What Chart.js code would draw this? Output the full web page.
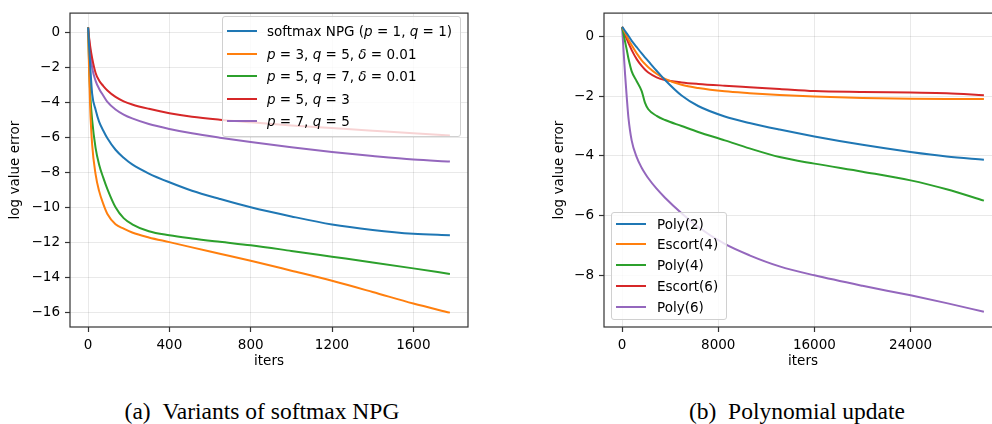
<!DOCTYPE html>
<html>
<head>
<meta charset="utf-8">
<script src="https://cdn.jsdelivr.net/npm/chart.js@4.4.1/dist/chart.umd.min.js"></script>
<style>
  html, body { margin:0; padding:0; background:#fff; }
  body { width:992px; height:424px; overflow:hidden; position:relative; }
  .wrap { position:absolute; top:0; }
  .legend { position:absolute; box-sizing:border-box; background:rgba(255,255,255,0.8);
            border:1px solid #d0d0d0; border-radius:3px; font-family:'DejaVu Sans', sans-serif;
            font-size:13.5px; color:#000; }
  .legend .row { position:absolute; left:0; right:0; height:16px; line-height:16px; white-space:nowrap; }
  .legend .handle { position:absolute; top:7px; width:30px; height:2px; }
  .legend .txt { position:absolute; top:0; }
  .legend i { font-style:oblique; }
  .cap { position:absolute; top:400px; font-family:'Liberation Serif', 'Times New Roman', serif;
         font-size:23.5px; line-height:23.5px; text-align:center; white-space:nowrap; color:#000; }
</style>
</head>
<body>
<div class="wrap" style="left:0;width:480px;height:380px;"><canvas id="cA" width="480" height="380" style="width:480px;height:380px;"></canvas></div>
<div class="wrap" style="left:544px;width:470px;height:380px;"><canvas id="cB" width="470" height="380" style="width:470px;height:380px;"></canvas></div>
<div id="legA" class="legend" style="left:222px;top:16px;width:239px;height:121px;"></div>
<div id="legB" class="legend" style="left:611px;top:212px;width:116px;height:108px;"></div>
<div class="cap" style="left:112px;width:300px;">(a)&ensp;Variants of softmax NPG</div>
<div class="cap" style="left:647px;width:300px;">(b)&ensp;Polynomial update</div>
<script>
// ---------------- data: (a) Variants of softmax NPG ----------------
const itersA = [0,5,10,20,37,54,75,95,135,175,217,299,400,511,648,800,1000,1200,1400,1600,1780];
const softmaxNPG = [0.3,-0.8,-1.8,-3.5,-4.4,-5.08,-5.6,-6.03,-6.69,-7.15,-7.53,-8.05,-8.55,-9.03,-9.5,-9.98,-10.5,-10.96,-11.27,-11.49,-11.58];
const p3q5 = [0.3,-2.2,-4.2,-6.4,-8.1,-9.04,-9.8,-10.36,-10.95,-11.2,-11.42,-11.7,-11.97,-12.27,-12.63,-13.03,-13.6,-14.18,-14.82,-15.48,-16.0];
const p5q7 = [0.3,-1.8,-3.4,-5.0,-6.6,-7.53,-8.3,-8.94,-9.98,-10.6,-10.95,-11.35,-11.58,-11.76,-11.95,-12.15,-12.47,-12.8,-13.13,-13.47,-13.79];
const p5q3 = [0.3,-0.3,-0.75,-1.45,-2.3,-2.73,-3.05,-3.3,-3.67,-3.92,-4.1,-4.35,-4.6,-4.8,-4.97,-5.12,-5.3,-5.45,-5.6,-5.75,-5.88];
const p7q5 = [0.3,-0.4,-1.0,-2.0,-2.75,-3.2,-3.6,-3.95,-4.39,-4.68,-4.9,-5.22,-5.5,-5.75,-6.0,-6.25,-6.55,-6.82,-7.05,-7.25,-7.36];
const labelsA = ['softmax NPG (p = 1, q = 1)','p = 3, q = 5, δ = 0.01','p = 5, q = 7, δ = 0.01','p = 5, q = 3','p = 7, q = 5'];
const xTicksA = [0,400,800,1200,1600];
const yTicksA = [0,-2,-4,-6,-8,-10,-12,-14,-16];

// ---------------- data: (b) Polynomial update ----------------
const itersB = [0,110,250,390,525,800,1215,1630,1900,2180,2870,3570,4950,6330,8540,10600,13100,16000,20000,24000,27000,30100];
const poly2   = [0.32,0.26,0.18,0.1,0.02,-0.15,-0.36,-0.57,-0.7,-0.83,-1.15,-1.46,-1.98,-2.33,-2.68,-2.9,-3.12,-3.35,-3.63,-3.87,-4.02,-4.13];
const escort4 = [0.32,0.23,0.12,0.01,-0.1,-0.3,-0.57,-0.8,-0.92,-1.03,-1.25,-1.42,-1.62,-1.73,-1.84,-1.9,-1.96,-2.01,-2.06,-2.09,-2.1,-2.1];
const poly4   = [0.32,0.1,-0.18,-0.45,-0.73,-1.17,-1.5,-1.83,-2.22,-2.44,-2.66,-2.8,-3.0,-3.2,-3.48,-3.75,-4.04,-4.26,-4.53,-4.82,-5.12,-5.5];
const escort6 = [0.32,0.2,0.05,-0.09,-0.22,-0.46,-0.76,-0.99,-1.11,-1.21,-1.37,-1.46,-1.54,-1.59,-1.65,-1.7,-1.76,-1.83,-1.86,-1.88,-1.9,-1.97];
const poly6   = [0.32,-0.4,-1.28,-2.05,-2.71,-3.49,-4.04,-4.4,-4.58,-4.75,-5.1,-5.4,-5.92,-6.38,-6.95,-7.33,-7.7,-8.0,-8.35,-8.67,-8.93,-9.22];
const labelsB = ['Poly(2)','Escort(4)','Poly(4)','Escort(6)','Poly(6)'];
const xTicksB = [0,8000,16000,24000];
const yTicksB = [0,-2,-4,-6,-8];

const COLORS = ['#1f77b4','#ff7f0e','#2ca02c','#d62728','#9467bd'];

Chart.defaults.font.family = "'DejaVu Sans', sans-serif";
Chart.defaults.font.size = 13.5;
Chart.defaults.color = '#000';

const spines = {
  id: 'spines',
  afterDatasetsDraw(chart) {
    const a = chart.chartArea, ctx = chart.ctx;
    ctx.save();
    ctx.strokeStyle = '#333';
    ctx.lineWidth = 1.2;
    ctx.strokeRect(a.left, a.top, a.right - a.left, a.bottom - a.top);
    ctx.restore();
  }
};

const fmt = v => v < 0 ? '\u2212' + Math.abs(v) : String(v);

function makeChart(id, xs, series, labels, xTicks, yTicks, lim, geo) {
  const datasets = series.map((s, i) => ({
    label: labels[i],
    data: xs.map((x, j) => ({ x: x, y: s[j] })),
    borderColor: COLORS[i],
    backgroundColor: COLORS[i],
    borderWidth: 2,
    pointRadius: 0,
    cubicInterpolationMode: 'monotone',
    fill: false
  }));
  const gridCommon = { color: 'rgba(0,0,0,0.085)', lineWidth: 1, drawTicks: true, tickLength: 5, tickColor: '#333', tickWidth: 1.2 };
  return new Chart(document.getElementById(id), {
    type: 'line',
    data: { datasets },
    plugins: [spines],
    options: {
      responsive: false,
      animation: false,
      devicePixelRatio: 1,
      layout: { padding: { left: 0, top: 11, right: geo.padRight, bottom: 10 } },
      plugins: { legend: { display: false }, tooltip: { enabled: false } },
      scales: {
        x: {
          type: 'linear', min: lim.xmin, max: lim.xmax,
          afterBuildTicks: s => { s.ticks = xTicks.map(v => ({ value: v })); },
          afterFit: s => { s.height = 43; },
          ticks: { padding: 5, maxRotation: 0, autoSkip: false, callback: fmt },
          grid: gridCommon,
          border: { display: false },
          title: { display: true, text: 'iters', padding: { top: 0, bottom: 0 }, font: { size: 13.5 } }
        },
        y: {
          type: 'linear', min: lim.ymin, max: lim.ymax,
          afterBuildTicks: s => { s.ticks = yTicks.map(v => ({ value: v })); },
          afterFit: s => { s.width = geo.yWidth; },
          ticks: { padding: 5, autoSkip: false, callback: fmt },
          grid: gridCommon,
          border: { display: false },
          title: { display: true, text: 'log value error', padding: { top: 7, bottom: 0 }, font: { size: 13.5 } }
        }
      }
    }
  });
}

const chartA = makeChart('cA', itersA, [softmaxNPG, p3q5, p5q7, p5q3, p7q5], labelsA, xTicksA, yTicksA,
  { xmin: -89, xmax: 1869, ymin: -16.82, ymax: 1.12 }, { yWidth: 70, padRight: 12 });
const chartB = makeChart('cB', itersB, [poly2, escort4, poly4, escort6, poly6], labelsB, xTicksB, yTicksB,
  { xmin: -1505, xmax: 31605, ymin: -9.73, ymax: 0.78 }, { yWidth: 60, padRight: 12 });

function mathify(t) {
  const esc = t.replace(/&/g,'&amp;').replace(/</g,'&lt;');
  return esc.replace(/(^|[^A-Za-z])([pqδ])(?=[^A-Za-z]|$)/g, '$1<i>$2</i>');
}
function buildLegend(chart, el, firstRow, spacing, textLeft) {
  chart.data.datasets.forEach((ds, i) => {
    const row = document.createElement('div');
    row.className = 'row';
    row.style.top = (firstRow + i * spacing - 8) + 'px';
    const h = document.createElement('span');
    h.className = 'handle';
    h.style.left = '4px';
    h.style.background = ds.borderColor;
    const tx = document.createElement('span');
    tx.className = 'txt';
    tx.style.left = textLeft + 'px';
    tx.innerHTML = mathify(ds.label);
    row.appendChild(h); row.appendChild(tx);
    el.appendChild(row);
  });
}
buildLegend(chartA, document.getElementById('legA'), 14, 22.6, 44);
buildLegend(chartB, document.getElementById('legB'), 10.5, 20.9, 45);
</script>
</body>
</html>
